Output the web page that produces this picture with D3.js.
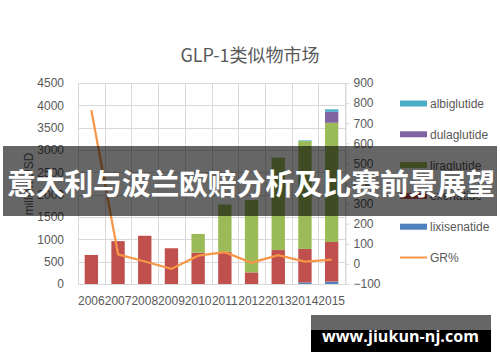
<!DOCTYPE html>
<html>
<head>
<meta charset="utf-8">
<script src="https://cdn.jsdelivr.net/npm/d3@7"></script>
<style>
  body { margin: 0; background: #fff; }
  svg text { font-family: "Liberation Sans", Arial, sans-serif; }
</style>
</head>
<body>
<div id="chart"></div>
<script>
// values
var years = ["2006", "2007", "2008", "2009", "2010", "2011", "2012", "2013", "2014", "2015"];
var lixisenatide = [0, 0, 0, 0, 0, 0, 0, 0, 35, 55];
var exenatide = [650, 960, 1080, 800, 700, 720, 260, 760, 750, 885];
var liraglutide = [0, 0, 0, 0, 420, 1060, 1620, 2070, 2415, 2670];
var dulaglutide = [0, 0, 0, 0, 0, 0, 0, 0, 0, 245];
var albiglutide = [0, 0, 0, 0, 0, 0, 0, 0, 15, 55];
var growth = [765, 48, 12, -25, 41, 58, 6, 44, 11, 21];
var leftTicks = [0, 500, 1000, 1500, 2000, 2500, 3000, 3500, 4000, 4500];
var rightTicks = [-100, 0, 100, 200, 300, 400, 500, 600, 700, 800, 900];

var W = 500, H = 362;
var plot = { left: 78, right: 345, top: 83, bottom: 284 };

// stacking order, bottom to top
var series = [
  { name: "lixisenatide", values: lixisenatide, color: "#4f81bd" },
  { name: "exenatide", values: exenatide, color: "#c0504d" },
  { name: "liraglutide", values: liraglutide, color: "#9bbb59" },
  { name: "dulaglutide", values: dulaglutide, color: "#8064a2" },
  { name: "albiglutide", values: albiglutide, color: "#4bacc6" }
];

var svg = d3.select("#chart").append("svg")
  .attr("width", W)
  .attr("height", H);

var x = d3.scaleBand().domain(years).range([plot.left, plot.right]).paddingInner(0).paddingOuter(0);
var yL = d3.scaleLinear().domain([0, 4500]).range([plot.bottom, plot.top]);
var yR = d3.scaleLinear().domain([-100, 900]).range([plot.bottom, plot.top]);

// title
svg.append("text")
  .attr("x", 250).attr("y", 62)
  .attr("text-anchor", "middle")
  .style("font-family", "'Noto Sans CJK SC', sans-serif")
  .style("font-size", "18px")
  .attr("fill", "#595959")
  .text("GLP-1类似物市场");

// gridlines
var grid = svg.append("g").attr("stroke", "#d9d9d9").attr("stroke-width", 1);
grid.selectAll("line.h").data(leftTicks).enter().append("line")
  .attr("x1", plot.left).attr("x2", plot.right)
  .attr("y1", function(d) { return Math.round(yL(d)) + 0.5; })
  .attr("y2", function(d) { return Math.round(yL(d)) + 0.5; });
var bounds = years.map(function(d) { return x(d); }).concat([plot.right]);
grid.selectAll("line.v").data(bounds).enter().append("line")
  .attr("x1", function(d) { return Math.round(d) + 0.5; })
  .attr("x2", function(d) { return Math.round(d) + 0.5; })
  .attr("y1", plot.top).attr("y2", plot.bottom);

// left axis
var axL = d3.axisLeft(yL).tickValues(leftTicks).tickFormat(d3.format("d")).tickSize(0).tickPadding(14);
var gL = svg.append("g").attr("transform", "translate(" + plot.left + ",0)").call(axL);
gL.select(".domain").remove();
gL.selectAll("text").attr("fill", "#595959").style("font-size", "12px");

// right axis
var axR = d3.axisRight(yR).tickValues(rightTicks).tickFormat(d3.format("d")).tickSize(4).tickPadding(4);
var gR = svg.append("g").attr("transform", "translate(" + (plot.right + 0.5) + ",0)").call(axR);
gR.select(".domain").attr("stroke", "#d9d9d9");
gR.selectAll(".tick line").attr("stroke", "#d9d9d9");
gR.selectAll("text").attr("fill", "#595959").style("font-size", "12px");

// bottom labels
var axB = d3.axisBottom(x).tickSize(0).tickPadding(12);
var gB = svg.append("g").attr("transform", "translate(0," + plot.bottom + ")").call(axB);
gB.select(".domain").attr("stroke", "#d9d9d9");
gB.selectAll("text").attr("fill", "#595959").style("font-size", "12px");

// y axis title
svg.append("text")
  .attr("transform", "translate(33,184) rotate(-90)")
  .attr("text-anchor", "middle")
  .attr("fill", "#595959")
  .style("font-size", "12px")
  .text("million USD");

// stacked bars
var stack = d3.stack().keys(d3.range(series.length))
  .value(function(d, k) { return series[k].values[d]; });
var layers = stack(d3.range(years.length));
var barW = x.bandwidth() * 0.5;
svg.selectAll("g.layer").data(layers).enter().append("g")
  .attr("fill", function(d, i) { return series[i].color; })
  .selectAll("rect").data(function(d) { return d; }).enter().append("rect")
  .attr("x", function(d, i) { return x(years[i]) + (x.bandwidth() - barW) / 2; })
  .attr("width", barW)
  .attr("y", function(d) { return yL(d[1]); })
  .attr("height", function(d) { return yL(d[0]) - yL(d[1]); });

// growth line
var line = d3.line()
  .x(function(d, i) { return x(years[i]) + x.bandwidth() / 2; })
  .y(function(d) { return yR(d); });
svg.append("path").datum(growth)
  .attr("d", line)
  .attr("fill", "none")
  .attr("stroke", "#f79646")
  .attr("stroke-width", 2.25);

// legend
var legendItems = [
  { name: "albiglutide", color: "#4bacc6" },
  { name: "dulaglutide", color: "#8064a2" },
  { name: "liraglutide", color: "#9bbb59" },
  { name: "exenatide", color: "#c0504d" },
  { name: "lixisenatide", color: "#4f81bd" },
  { name: "GR%", color: "#f79646", line: true }
];
var lg = svg.selectAll("g.legend").data(legendItems).enter().append("g")
  .attr("transform", function(d, i) { return "translate(400," + (103.5 + i * 30.8) + ")"; });
lg.append("rect")
  .attr("x", 0).attr("width", 27)
  .attr("y", function(d) { return d.line ? -1 : -3; })
  .attr("height", function(d) { return d.line ? 2 : 6; })
  .attr("fill", function(d) { return d.color; });
lg.append("text")
  .attr("x", 30).attr("y", 4.5)
  .attr("fill", "#595959")
  .style("font-size", "12px")
  .text(function(d) { return d.name; });

// banner overlay
svg.append("rect")
  .attr("x", 3).attr("y", 146).attr("width", 494).attr("height", 70)
  .attr("fill", "rgba(0,0,0,0.6)");
svg.append("text")
  .attr("x", 251).attr("y", 195)
  .attr("text-anchor", "middle")
  .attr("textLength", 488)
  .attr("fill", "#fff")
  .style("font-family", "'Noto Sans CJK SC', sans-serif")
  .style("font-weight", "700")
  .style("font-size", "29px")
  .text("意大利与波兰欧赔分析及比赛前景展望");

// watermark
svg.append("rect").attr("x", 311).attr("y", 315).attr("width", 180).attr("height", 15).attr("fill", "#666");
svg.append("rect").attr("x", 311).attr("y", 330).attr("width", 180).attr("height", 22).attr("fill", "#000");
svg.append("text")
  .attr("x", 322).attr("y", 342)
  .attr("textLength", 157)
  .attr("fill", "#fff")
  .style("font-family", "'Open Sans', sans-serif")
  .style("font-weight", "700")
  .style("font-size", "16px")
  .text("www.jiukun-nj.com");
</script>
</body>
</html>
